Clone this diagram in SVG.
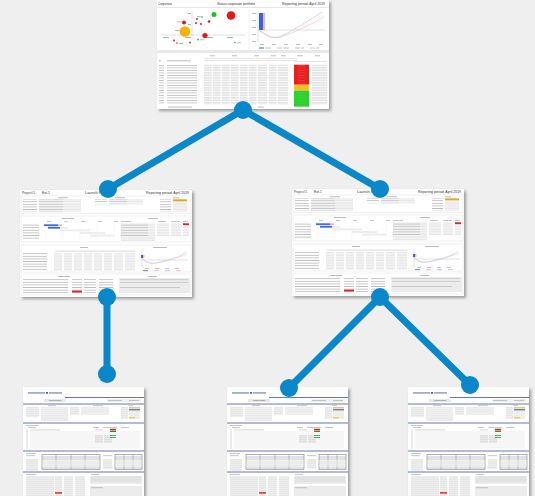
<svg xmlns="http://www.w3.org/2000/svg" xmlns:xlink="http://www.w3.org/1999/xlink" width="535" height="496" viewBox="0 0 535 496">
<style>
.pg{fill:#fff;filter:url(#sh)}
.t{font-family:"Liberation Sans",Arial,sans-serif;fill:#333}
.g{fill:#e6e6e6}
.g2{fill:#d6d6d6}
.tx{fill:#a0a0a0}
.fr{fill:none;stroke:#dcdcdc;stroke-width:0.4}
.ax{stroke:#9a9a9a;stroke-width:0.3;fill:none}
.bl{stroke:#3556a8;stroke-width:0.8}
.tb{fill:none;stroke:#6a6a6a;stroke-width:0.5}
.conn{stroke:#0a87c8;stroke-width:7;stroke-linecap:round;fill:none}
.dot{fill:#0a87c8}
</style>
<defs>
<filter id="sh" x="-5%" y="-5%" width="115%" height="115%">
<feDropShadow dx="2" dy="2" stdDeviation="1.5" flood-color="#000" flood-opacity="0.35"/>
</filter>
<pattern id="rowsTop" patternUnits="userSpaceOnUse" x="0" y="64.5" width="172" height="2.5">
<rect width="172" height="1.8" fill="#e4e4e4"/>
</pattern>
<pattern id="txtTop" patternUnits="userSpaceOnUse" x="0" y="65" width="172" height="2.5">
<rect width="172" height="0.6" fill="#a8a8a8"/>
</pattern>
<pattern id="rowsA" patternUnits="userSpaceOnUse" x="0" y="0" width="172" height="2.6">
<rect y="0.3" width="172" height="1.8" fill="#e6e6e6"/>
</pattern>
<pattern id="txtA" patternUnits="userSpaceOnUse" x="0" y="0" width="172" height="2.6">
<rect y="0.9" width="172" height="0.6" fill="#a0a0a0"/>
</pattern>
<pattern id="rowsB" patternUnits="userSpaceOnUse" x="0" y="0" width="121" height="2">
<rect y="0.3" width="121" height="1.2" fill="#e2e2e2"/>
</pattern>
<pattern id="txtB" patternUnits="userSpaceOnUse" x="0" y="0" width="121" height="2">
<rect y="0.7" width="121" height="0.5" fill="#aaaaaa"/>
</pattern>

<!-- Corporate portfolio thumbnail -->
<g id="tplTop">
<rect class="pg" width="172" height="109"/>
<text class="t" x="1" y="5" font-size="3.6" textLength="14" lengthAdjust="spacingAndGlyphs">Corporate</text>
<text class="t" x="60" y="5" font-size="3.6" textLength="38" lengthAdjust="spacingAndGlyphs">Status corporate portfolio</text>
<text class="t" x="125" y="5" font-size="3.6" textLength="43" lengthAdjust="spacingAndGlyphs">Reporting period: April 2019</text>
<line x1="0" y1="7.5" x2="172" y2="7.5" stroke="#cfcfcf" stroke-width="0.5"/>
<!-- scatter -->
<path class="ax" d="M35 11V40M5 35H88"/>
<rect class="tx" x="6" y="37" width="6" height="0.8"/>
<rect class="tx" x="28" y="37" width="6" height="0.8"/>
<rect class="tx" x="50" y="37" width="6" height="0.8"/>
<rect class="tx" x="70" y="37" width="6" height="0.8"/>
<rect class="tx" x="31" y="13" width="3" height="0.8"/>
<rect class="tx" x="31" y="24" width="3" height="0.8"/>
<circle cx="74" cy="15.5" r="4.3" fill="#e81818"/>
<circle cx="57" cy="14.5" r="2.5" fill="#1bc41b"/>
<circle cx="28" cy="31.5" r="5.3" fill="#f4b400"/>
<circle cx="27" cy="22.5" r="2" fill="#e81818"/>
<circle cx="48" cy="35.5" r="2.6" fill="#e81818"/>
<circle cx="40" cy="19" r="0.9" fill="#e81818"/>
<circle cx="44" cy="24" r="1" fill="#e81818"/>
<circle cx="39" cy="23" r="1" fill="#e81818"/>
<circle cx="52" cy="21.5" r="1.3" fill="#e81818"/>
<circle cx="45" cy="17" r="0.8" fill="#1bc41b"/>
<circle cx="17" cy="40.5" r="1" fill="#e81818"/>
<circle cx="20" cy="43" r="0.8" fill="#e81818"/>
<circle cx="33" cy="42.5" r="0.9" fill="#e81818"/>
<circle cx="41" cy="39.5" r="0.9" fill="#1bc41b"/>
<circle cx="78" cy="42.5" r="0.8" fill="#1bc41b"/>
<rect class="tx" x="20" y="21.5" width="5" height="0.7"/>
<rect class="tx" x="18" y="30" width="5" height="0.7"/>
<rect class="tx" x="40" y="16" width="4" height="0.7"/>
<rect class="tx" x="22" y="43" width="4" height="0.7"/>
<rect class="tx" x="80" y="42.5" width="4" height="0.7"/>
<rect class="tx" x="43" y="39.5" width="4" height="0.7"/>
<!-- line chart -->
<line x1="92" y1="10" x2="92" y2="49" stroke="#e2e2e2" stroke-width="0.5"/>
<path class="ax" d="M101 12V42M101 30H168"/>
<rect x="102" y="13" width="4" height="17" fill="#2f66e8"/>
<rect x="106" y="13" width="2.2" height="17" fill="#f5b3b3"/>
<path d="M102 30C110 36 115 38 121 37S150 22 165 12" stroke="#a9b8f2" stroke-width="0.6" fill="none"/>
<path d="M102 30C112 39 119 39 127 36S155 24 167 17" stroke="#f3b5b5" stroke-width="0.6" fill="none"/>
<rect class="tx" x="95" y="13" width="4" height="0.7"/>
<rect class="tx" x="95" y="20" width="4" height="0.7"/>
<rect class="tx" x="95" y="27" width="4" height="0.7"/>
<rect class="tx" x="95" y="34" width="4" height="0.7"/>
<rect class="tx" x="95" y="41" width="4" height="0.7"/>
<rect class="tx" x="103" y="44" width="4" height="0.7"/>
<rect class="tx" x="115" y="44" width="4" height="0.7"/>
<rect class="tx" x="127" y="44" width="4" height="0.7"/>
<rect class="tx" x="139" y="44" width="4" height="0.7"/>
<rect class="tx" x="151" y="44" width="4" height="0.7"/>
<rect class="tx" x="162" y="44" width="4" height="0.7"/>
<rect x="102" y="47.5" width="5" height="1" fill="#2f66e8"/>
<rect class="tx" x="108" y="47.7" width="6" height="0.6"/>
<rect x="120" y="47.5" width="5" height="1" fill="#f3b5b5"/>
<rect class="tx" x="126" y="47.7" width="6" height="0.6"/>
<rect x="138" y="47.5" width="5" height="1" fill="#a9b8f2"/>
<rect class="tx" x="144" y="47.7" width="3" height="0.6"/>
<rect x="153" y="47.5" width="5" height="1" fill="#f3b5b5"/>
<rect class="tx" x="159" y="47.7" width="3" height="0.6"/>
<!-- band -->
<rect x="0" y="50" width="172" height="3" fill="#e9e9e9"/>
<!-- table header -->
<rect class="tx" x="2" y="60.5" width="2" height="0.7"/>
<rect class="tx" x="10" y="60.5" width="24" height="0.7"/>
<rect class="tx" x="53" y="55.5" width="5" height="0.7"/>
<rect class="tx" x="75" y="55.5" width="5" height="0.7"/>
<rect class="tx" x="97" y="55.5" width="5" height="0.7"/>
<rect class="tx" x="114" y="55.5" width="5" height="0.7"/>
<rect class="tx" x="124" y="55.5" width="5" height="0.7"/>
<rect class="tx" x="140" y="55.5" width="6" height="0.7"/>
<rect class="tx" x="158" y="55.5" width="5" height="0.7"/>
<rect fill="#d2d2d2" x="47" y="58" width="93" height="0.6"/>
<rect fill="#d2d2d2" x="47" y="60" width="93" height="0.6"/>
<rect fill="#d2d2d2" x="137" y="61" width="33" height="0.6"/>
<!-- table body -->
<rect x="2" y="64.5" width="5" height="40" fill="url(#txtTop)"/>
<rect x="10" y="64.5" width="30" height="40" fill="url(#txtTop)"/>
<rect x="47" y="64.5" width="7.5" height="40" fill="url(#rowsTop)"/>
<rect x="56" y="64.5" width="7.5" height="40" fill="url(#rowsTop)"/>
<rect x="65" y="64.5" width="7.5" height="40" fill="url(#rowsTop)"/>
<rect x="74" y="64.5" width="7.5" height="40" fill="url(#rowsTop)"/>
<rect x="83" y="64.5" width="7.5" height="40" fill="url(#rowsTop)"/>
<rect x="92" y="64.5" width="7.5" height="40" fill="url(#rowsTop)"/>
<rect x="101" y="64.5" width="9" height="40" fill="url(#rowsTop)"/>
<rect x="112" y="64.5" width="7.5" height="40" fill="url(#rowsTop)"/>
<rect x="121" y="64.5" width="10" height="40" fill="url(#rowsTop)"/>
<rect x="155" y="64.5" width="15" height="40" fill="url(#rowsTop)"/>
<rect x="137" y="64.7" width="15" height="20" fill="#ef1c1c"/>
<rect x="137" y="84.7" width="15" height="6" fill="#f7c21a"/>
<rect x="137" y="90.7" width="15" height="16" fill="#27d627"/>
<rect x="141" y="64.5" width="7" height="42.5" fill="url(#txtTop)" opacity="0.35"/>
<rect class="tx" x="11" y="106.7" width="24" height="0.7"/>
<rect class="tx" x="101" y="106.7" width="6" height="0.7"/>
</g>

<!-- Project thumbnail -->
<g id="tplMid">
<rect class="pg" width="172" height="107"/>
<text class="t" x="2" y="4.3" font-size="3.6" textLength="13" lengthAdjust="spacingAndGlyphs">Project#1</text>
<text class="t" x="22" y="4.3" font-size="3.6" textLength="8" lengthAdjust="spacingAndGlyphs">Ext.1</text>
<text class="t" x="65" y="4.3" font-size="3.6" textLength="26" lengthAdjust="spacingAndGlyphs">Launch Project</text>
<text class="t" x="126" y="4.3" font-size="3.6" textLength="43" lengthAdjust="spacingAndGlyphs">Reporting period: April 2019</text>
<!-- section 1 -->
<rect class="fr" x="1" y="6" width="170" height="17.5"/>
<rect class="tx" x="38" y="7.5" width="10" height="0.7"/>
<rect class="tx" x="95" y="7.5" width="10" height="0.7"/>
<rect class="tx" x="153" y="7.5" width="6" height="0.7"/>
<rect x="3" y="9.1" width="14" height="13" fill="url(#txtA)"/>
<rect x="19" y="9.1" width="42" height="13" fill="url(#rowsA)"/>
<rect x="19" y="9.1" width="24" height="13" fill="url(#txtA)" opacity="0.6"/>
<rect x="75" y="9.1" width="12" height="5.2" fill="url(#txtA)"/>
<rect x="89" y="9.1" width="34" height="5.2" fill="url(#rowsA)"/>
<rect x="89" y="9.1" width="18" height="5.2" fill="url(#txtA)" opacity="0.6"/>
<rect x="140" y="9.1" width="11" height="13" fill="url(#txtA)"/>
<rect x="153" y="9.1" width="14" height="13" fill="url(#rowsA)"/>
<rect x="153" y="9.4" width="14" height="1.8" fill="#f7a21b"/>
<!-- section 2 -->
<rect class="fr" x="1" y="26" width="170" height="26"/>
<rect class="tx" x="42" y="28" width="12" height="0.7"/>
<rect class="tx" x="128" y="28" width="10" height="0.7"/>
<rect class="tx" x="27" y="31" width="4" height="0.6"/>
<rect class="tx" x="44" y="31" width="4" height="0.6"/>
<rect class="tx" x="61" y="31" width="4" height="0.6"/>
<rect class="tx" x="78" y="31" width="4" height="0.6"/>
<rect class="tx" x="94" y="31" width="4" height="0.6"/>
<path d="M26 32V51M43 32V51M60 32V51M77 32V51M94 32V51" stroke="#eeeeee" stroke-width="0.4"/>
<rect x="3" y="33.8" width="16" height="15.6" fill="url(#txtA)"/>
<rect x="24" y="34.3" width="14" height="1.8" fill="#3d6ce8"/>
<rect x="38" y="34.3" width="4" height="1.8" fill="#f4b3b3"/>
<rect x="28" y="36.9" width="12" height="1.8" fill="#3d6ce8"/>
<rect x="40" y="36.9" width="8" height="1.8" fill="#ececec"/>
<rect x="40" y="39.5" width="30" height="1.8" fill="#ececec"/>
<rect x="60" y="42.1" width="25" height="1.8" fill="#ececec"/>
<rect x="70" y="44.7" width="24" height="1.8" fill="#ececec"/>
<rect class="tx" x="101" y="31" width="10" height="0.6"/>
<rect class="tx" x="138" y="31" width="8" height="0.6"/>
<rect class="tx" x="151" y="31" width="9" height="0.6"/>
<rect class="tx" x="163" y="31" width="5" height="0.6"/>
<rect x="101" y="33" width="34" height="18" fill="url(#rowsA)"/>
<rect x="101" y="33" width="27" height="13" fill="url(#txtA)" opacity="0.7"/>
<rect x="137" y="33" width="12" height="13" fill="url(#rowsA)"/>
<rect x="151" y="33" width="10" height="13" fill="url(#rowsA)"/>
<rect x="163" y="33" width="6" height="13" fill="url(#rowsA)"/>
<rect x="163" y="33.3" width="6" height="1.8" fill="#ee1c1c"/>
<!-- section 3 -->
<rect class="fr" x="1" y="55" width="170" height="27"/>
<rect class="tx" x="60" y="57" width="8" height="0.7"/>
<rect class="tx" x="133" y="57" width="14" height="0.7"/>
<rect x="35" y="59" width="80" height="3" fill="url(#txtA)" opacity="0.7"/>
<rect x="3" y="63" width="24" height="18" fill="url(#txtA)"/>
<rect x="34" y="63" width="8" height="18" fill="url(#rowsA)"/>
<rect x="44" y="63" width="8" height="18" fill="url(#rowsA)"/>
<rect x="54" y="63" width="8" height="18" fill="url(#rowsA)"/>
<rect x="64" y="63" width="8" height="18" fill="url(#rowsA)"/>
<rect x="74" y="63" width="8" height="18" fill="url(#rowsA)"/>
<rect x="84" y="63" width="8" height="18" fill="url(#rowsA)"/>
<rect x="94" y="63" width="9" height="18" fill="url(#rowsA)"/>
<rect x="105" y="63" width="10" height="18" fill="url(#rowsA)"/>
<path class="ax" d="M122 60V77M122 70H168"/>
<rect x="121" y="65" width="2" height="3" fill="#2f66e8"/>
<rect x="123" y="65" width="1.5" height="3" fill="#f4b3b3"/>
<path d="M122 68C126 73 130 74 136 73S155 70 166 62" stroke="#a9b8f2" stroke-width="0.5" fill="none"/>
<path d="M122 68C128 74 134 74 140 72S158 68 167 64" stroke="#f3b5b5" stroke-width="0.5" fill="none"/>
<rect class="tx" x="125" y="78" width="4" height="0.6"/>
<rect class="tx" x="135" y="78" width="4" height="0.6"/>
<rect class="tx" x="145" y="78" width="4" height="0.6"/>
<rect class="tx" x="155" y="78" width="4" height="0.6"/>
<rect x="123" y="80.3" width="5" height="0.8" fill="#2f66e8"/>
<rect x="134" y="80.3" width="5" height="0.8" fill="#f3b5b5"/>
<rect x="145" y="80.3" width="5" height="0.8" fill="#a9b8f2"/>
<rect x="156" y="80.3" width="5" height="0.8" fill="#f3b5b5"/>
<!-- section 4 -->
<rect class="fr" x="1" y="84" width="170" height="21"/>
<rect class="tx" x="38" y="86" width="12" height="0.7"/>
<rect class="tx" x="128" y="86" width="9" height="0.7"/>
<rect x="3" y="88" width="45" height="15.6" fill="url(#txtA)"/>
<rect x="52" y="88" width="10" height="15.6" fill="url(#txtA)"/>
<rect x="64" y="88" width="12" height="15.6" fill="url(#txtA)"/>
<rect x="79" y="88" width="14" height="15.6" fill="url(#txtA)"/>
<rect x="52" y="100.6" width="10" height="1.8" fill="#ee1c1c"/>
<rect x="99" y="88" width="71" height="15" fill="#ececec"/>
<rect x="100" y="88.5" width="68" height="5.2" fill="url(#txtA)" opacity="0.7"/>
<rect x="100" y="96" width="60" height="2.6" fill="url(#txtA)" opacity="0.7"/>
</g>

<!-- Project report thumbnail -->
<g id="tplBot">
<rect class="pg" width="121" height="112"/>
<rect x="5" y="5" width="17" height="1.8" fill="#9fb0c8"/>
<rect x="23" y="5" width="2" height="1.8" fill="#2d6cc0"/>
<rect x="26" y="5" width="13" height="1.8" fill="#9fb0c8"/>
<line class="bl" x1="42" y1="10.5" x2="121" y2="10.5"/>
<rect x="21" y="12" width="22" height="3" fill="#e8e8e8"/>
<text class="t" x="26" y="14.3" font-size="2.4" textLength="12" lengthAdjust="spacingAndGlyphs">Project report</text>
<rect x="84" y="12" width="34" height="3" fill="#f0f0f0"/>
<rect class="tx" x="85" y="13.2" width="14" height="0.6"/>
<rect class="tx" x="106" y="13.2" width="10" height="0.6"/>
<line class="bl" x1="0" y1="17" x2="121" y2="17"/>
<rect class="tx" x="25" y="18.5" width="8" height="0.6"/>
<rect class="tx" x="70" y="18.5" width="10" height="0.6"/>
<rect class="tx" x="105" y="18.5" width="5" height="0.6"/>
<rect x="3" y="20" width="13" height="10" fill="url(#txtB)"/>
<rect x="18" y="20" width="27" height="10" fill="url(#rowsB)"/>
<rect x="18" y="30" width="27" height="4" fill="#ececec"/>
<rect x="47" y="20" width="9" height="8" fill="url(#txtB)"/>
<rect x="58" y="20" width="28" height="8" fill="url(#rowsB)"/>
<rect x="98" y="20" width="7" height="12" fill="url(#txtB)"/>
<rect x="106" y="20" width="11" height="12" fill="url(#rowsB)"/>
<rect x="106" y="20.3" width="11" height="1" fill="#f2c200"/>
<rect x="106" y="22.3" width="11" height="1" fill="#3556a8"/>
<rect x="106" y="30.3" width="6" height="1" fill="#f2c200"/>
<line class="bl" x1="0" y1="36" x2="121" y2="36"/>
<rect class="tx" x="3" y="38" width="12" height="0.6"/>
<rect class="tx" x="5" y="40" width="8" height="0.6"/>
<rect class="tx" x="70" y="40" width="6" height="0.6"/>
<rect class="tx" x="80" y="40" width="14" height="0.6"/>
<rect class="tx" x="98" y="40" width="8" height="0.6"/>
<rect x="3" y="42" width="2" height="20" fill="url(#txtB)"/>
<rect x="7" y="42" width="30" height="2" fill="url(#txtB)"/>
<rect x="7" y="44" width="110" height="18" fill="url(#rowsB)" opacity="0.5"/>
<rect x="72" y="42" width="8" height="2" fill="url(#txtB)"/>
<rect x="72" y="48" width="8" height="8" fill="url(#txtB)"/>
<rect x="81" y="48" width="8" height="8" fill="url(#txtB)"/>
<rect x="87" y="41.8" width="6" height="1.6" fill="#e41c1c"/>
<rect x="87" y="43.8" width="6" height="1.2" fill="#1f9a3a"/>
<rect x="87" y="48.2" width="6" height="0.8" fill="#1f9a3a"/>
<rect x="87" y="50.2" width="6" height="0.8" fill="#1f9a3a"/>
<line class="bl" x1="0" y1="64" x2="121" y2="64"/>
<rect class="tx" x="3" y="66" width="10" height="0.6"/>
<rect class="tx" x="3" y="68.5" width="9" height="0.6"/>
<rect x="3" y="72" width="12" height="12" fill="url(#txtB)"/>
<rect class="tb" x="19" y="67.5" width="58" height="15"/>
<path d="M19 70H77M19 72H77M19 81H77M33 67.5V82.5M48 67.5V82.5M62 67.5V82.5" stroke="#6a6a6a" stroke-width="0.4"/>
<rect x="20" y="72.5" width="56" height="8" fill="url(#rowsB)"/>
<rect class="tx" x="80" y="68.5" width="9" height="0.6"/>
<rect x="80" y="72" width="9" height="10" fill="url(#txtB)"/>
<rect class="tb" x="92" y="67.5" width="27" height="15"/>
<path d="M92 70H119M92 72H119M92 81H119M101 67.5V82.5M110 67.5V82.5" stroke="#6a6a6a" stroke-width="0.4"/>
<rect x="93" y="72.5" width="25" height="8" fill="url(#rowsB)"/>
<line class="bl" x1="0" y1="85" x2="121" y2="85"/>
<rect class="tx" x="3" y="87" width="10" height="0.6"/>
<rect class="tx" x="68" y="87" width="8" height="0.6"/>
<rect x="3" y="89" width="28" height="20" fill="url(#txtB)"/>
<rect x="32" y="89" width="7" height="20" fill="url(#txtB)"/>
<rect x="41" y="89" width="9" height="20" fill="url(#txtB)"/>
<rect x="52" y="89" width="10" height="20" fill="url(#txtB)"/>
<rect x="32" y="105.2" width="7" height="1.4" fill="#e41c1c"/>
<rect x="67" y="89" width="52" height="8" fill="#ececec"/>
<rect x="68" y="89" width="50" height="6" fill="url(#txtB)" opacity="0.6"/>
<rect x="67" y="99" width="52" height="12" fill="#ececec"/>
<rect class="tx" x="68" y="100.5" width="12" height="0.6"/>
</g>
</defs>

<rect width="535" height="496" fill="#efefef"/>

<g id="node-corporate"><use href="#tplTop" xlink:href="#tplTop" transform="translate(157,0)"/></g>
<g id="node-project-1"><use href="#tplMid" xlink:href="#tplMid" transform="translate(20,190)"/></g>
<g id="node-project-2"><use href="#tplMid" xlink:href="#tplMid" transform="translate(292,189)"/></g>
<g id="node-report-1"><use href="#tplBot" xlink:href="#tplBot" transform="translate(23,387)"/></g>
<g id="node-report-2"><use href="#tplBot" xlink:href="#tplBot" transform="translate(227,387)"/></g>
<g id="node-report-3"><use href="#tplBot" xlink:href="#tplBot" transform="translate(408,387)"/></g>

<g id="connectors">
<path class="conn" d="M243 110L108 189M243 110L380 189M107 297V374M380 297L289 388M380 297L470 385"/>
<circle class="dot" cx="243" cy="110" r="9"/>
<circle class="dot" cx="108" cy="189" r="9"/>
<circle class="dot" cx="380" cy="189" r="9"/>
<circle class="dot" cx="107" cy="297" r="9"/>
<circle class="dot" cx="107" cy="374" r="9"/>
<circle class="dot" cx="380" cy="297" r="9"/>
<circle class="dot" cx="289" cy="388" r="9"/>
<circle class="dot" cx="470" cy="385" r="9"/>
</g>
</svg>
